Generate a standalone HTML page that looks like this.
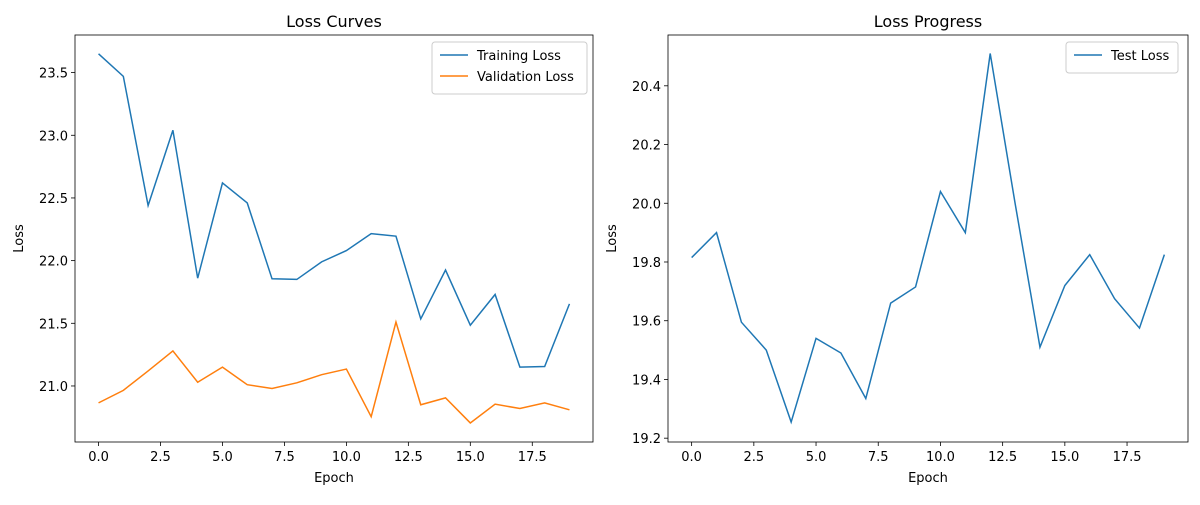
<!DOCTYPE html>
<html><head><meta charset="utf-8"><style>
body{margin:0;background:#fff}
svg text{font-family:"DejaVu Sans","Liberation Sans",sans-serif;fill:#000}
</style></head><body>
<svg id="c" width="1200" height="500" xmlns="http://www.w3.org/2000/svg"></svg>
<script>
const epochs=[0,1,2,3,4,5,6,7,8,9,10,11,12,13,14,15,16,17,18,19];
const trainLoss=[23.65,23.47,22.44,23.04,21.86,22.62,22.46,21.855,21.85,21.99,22.08,22.215,22.195,21.535,21.925,21.485,21.73,21.15,21.155,21.655];
const valLoss=[20.865,20.965,21.12,21.28,21.03,21.15,21.01,20.98,21.025,21.09,21.135,20.755,21.51,20.85,20.905,20.705,20.855,20.82,20.865,20.81];
const testLoss=[19.815,19.9,19.595,19.5,19.255,19.54,19.49,19.335,19.66,19.715,20.04,19.9,20.51,20.0,19.51,19.72,19.825,19.675,19.575,19.825];
const xTicks=[0,2.5,5,7.5,10,12.5,15,17.5];
const leftYTicks=[21.0,21.5,22.0,22.5,23.0,23.5];
const rightYTicks=[19.2,19.4,19.6,19.8,20.0,20.2,20.4];

const svg=document.getElementById('c');
const NS='http://www.w3.org/2000/svg';
function mk(tag,attrs,parent){const e=document.createElementNS(NS,tag);for(const k in attrs)e.setAttribute(k,attrs[k]);(parent||svg).appendChild(e);return e;}

function panel(o){
  const g=mk('g',{});
  
  
  const X=v=>o.x0+(v-o.xmin)*(o.x1-o.x0)/(o.xmax-o.xmin);
  const Y=v=>o.y1-(v-o.ymin)*(o.y1-o.y0)/(o.ymax-o.ymin);
  xTicks.forEach(t=>{const x=X(t);mk('line',{x1:x,x2:x,y1:o.y1,y2:o.y1+4,stroke:'#000','stroke-width':0.8},g);
    const tx=mk('text',{x:x,y:o.y1+19,'text-anchor':'middle','font-size':'13'},g);tx.textContent=t.toFixed(1);
    
    });
  o.yt.forEach(t=>{const y=Y(t);mk('line',{x1:o.x0-4,x2:o.x0,y1:y,y2:y,stroke:'#000','stroke-width':0.8},g);
    const tx=mk('text',{x:o.x0-7,y:y+5,'text-anchor':'end','font-size':'13'},g);tx.textContent=t.toFixed(1);
    
    });
  o.series.forEach(s=>{
    const p=mk('polyline',{points:epochs.map((e,i)=>X(e)+','+Y(s.v[i])).join(' '),fill:'none',stroke:s.c,'stroke-width':1.5},g);
    
    
  });
  mk('rect',{x:o.x0,y:o.y0,width:o.x1-o.x0,height:o.y1-o.y0,fill:'none',stroke:'#000','stroke-width':0.8},g);
  const t=mk('text',{x:(o.x0+o.x1)/2,y:o.y0-8,'text-anchor':'middle','font-size':'16'},g);t.textContent=o.title;
  
  
  const xl=mk('text',{x:(o.x0+o.x1)/2,y:482,'text-anchor':'middle','font-size':'13'},g);xl.textContent='Epoch';
  
  
  const yl=mk('text',{x:0,y:0,'text-anchor':'middle','font-size':'13',transform:`translate(${o.x0-52},${(o.y0+o.y1)/2}) rotate(-90)`},g);yl.textContent='Loss';
  
  
  const L=o.legend;
  const lg=mk('g',{},g);
  
  
  mk('rect',{x:L.x,y:L.y,width:L.w,height:10+21*o.series.length,rx:3,fill:'#fff',stroke:'#ccc','stroke-width':1},lg);
  o.series.forEach((s,i)=>{const yy=L.y+13+21*i;
    mk('line',{x1:L.x+8,x2:L.x+36,y1:yy,y2:yy,stroke:s.c,'stroke-width':1.5},lg);
    const tx=mk('text',{x:L.x+45,y:yy+5,'font-size':'13'},lg);tx.textContent=s.label;
    
    });
}
panel({name:'loss-curves-panel',x0:75,x1:593,y0:35,y1:442,xmin:-0.95,xmax:19.95,ymin:20.553,ymax:23.80,yt:leftYTicks,title:'Loss Curves',
  series:[{id:'training-loss-line',v:trainLoss,c:'#1f77b4',label:'Training Loss'},{id:'validation-loss-line',v:valLoss,c:'#ff7f0e',label:'Validation Loss'}],
  legend:{x:432,y:42,w:155}});
panel({name:'loss-progress-panel',x0:668,x1:1188,y0:35,y1:442,xmin:-0.95,xmax:19.95,ymin:19.187,ymax:20.573,yt:rightYTicks,title:'Loss Progress',
  series:[{id:'test-loss-line',v:testLoss,c:'#1f77b4',label:'Test Loss'}],
  legend:{x:1066,y:42,w:112}});
</script>
</body></html>
